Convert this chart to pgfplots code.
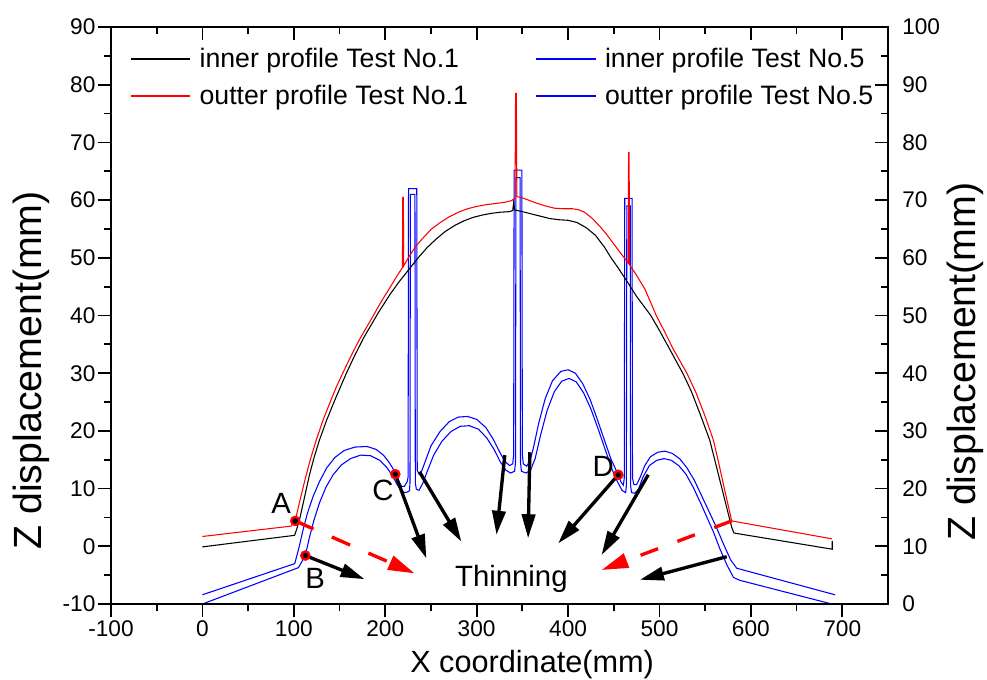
\documentclass[border=0pt]{standalone}
\usepackage{fontspec}
\setmainfont{Liberation Sans}
\usepackage{pgfplots}
\pgfplotsset{compat=1.18}
\usetikzlibrary{arrows.meta}

\newcommand\ticksize{\fontsize{17}{20}\selectfont}
\newcommand\legsize{\fontsize{20}{24}\selectfont}
\newcommand\xlabsize{\fontsize{23}{27}\selectfont}
\newcommand\zlabsize{\fontsize{29.5}{33}\selectfont}
\newcommand\notesize{\fontsize{22}{26}\selectfont}

\pgfplotsset{
  profile/.style={line width=0.8pt},
  thin arrow/.style={black, line width=2.5pt, -{Triangle[length=18pt,width=10pt]}, forget plot},
  red arrow/.style={red, line width=2.5pt, dash pattern=on 15pt off 15pt, -{Triangle[length=20pt,width=11pt]}, forget plot},
  frame/.style={
    at={(0pt,0pt)}, anchor=south west,
    scale only axis, width=582.75pt, height=432.75pt,
    xmin=-100, xmax=750,
    xtick={-100,0,100,200,300,400,500,600,700},
    minor x tick num=1, minor y tick num=1,
    major tick length=10pt, minor tick length=5.5pt,
    every tick/.append style={black, line width=1.3pt},
    axis line style={black, line width=1.5pt},
    /pgf/number format/assume math mode=true,
    tick label style={font=\ticksize},
    legend cell align=left,
    legend image code/.code={\draw[##1] (0pt,0pt) -- (44pt,0pt);
      \fill[##1] (0pt,-0.4pt) rectangle (44pt,0.4pt); \path (50pt,0pt);},
    clip=false,
  },
}

\begin{document}
\begin{tikzpicture}
\useasboundingbox (-83.25pt,-56.25pt) rectangle (657pt,453pt);

% right / top axis: Test No.5 profiles, read against the right scale
\begin{axis}[
  frame,
  ymin=0, ymax=100,
  ytick={0,10,20,30,40,50,60,70,80,90,100},
  xtick pos=top, ytick pos=right, yticklabel pos=right,
  xticklabels={},
  tick align=inside,
  yticklabel style={inner sep=0pt, xshift=10.5pt},
  ylabel={Z displacement(mm)},
  ylabel style={font=\zlabsize, at={(axis description cs:1.100,0.42)}, anchor=center},
]
% inner profile, Test No.5
\addplot[profile, blue] coordinates {
(0,0) (105,6.3) (108,7.1) (112.6,8.4) (117,11.5) (122,14.5) (128,17.5)
(135,20.2) (143,22.4) (152,24.1) (162,25.2) (173,25.8) (184,25.7) (194,24.9)
(202,23.6) (208,22.2) (213,20.7) (217,19.8) (221,19.3) (224,19.4) (226.5,19.6)
(227.1,21) (227.5,71) (232.5,71) (232.9,21) (234,19.9) (237,19.7) (241,20.9)
(246,23) (253,25.8) (262,28.2) (272,29.9) (282,30.8) (292,30.9) (302,30.3)
(311,28.8) (319,26.8) (326,24.6) (332,23.2) (337,22.7) (341.5,23) (342.5,24.5)
(343,73.9) (347.5,73.9) (348,24.5) (349,23) (354,22.7) (359,23.2) (364,25.2)
(370,29.3) (377,33.5) (385,36.8) (393,38.6) (401,39.1) (409,38.5) (417,36.6)
(425,33.8) (433,30.3) (441,26.6) (448,23.4) (454,21.2) (459,19.7) (463,19.3)
(463.8,20.5) (464.3,69) (468,69) (468.4,20.5) (469.5,19.3) (473,19.2) (477,19.9)
(482,22) (489,24) (497,24.9) (505,25.2) (513,24.9) (521,24) (529,22.5)
(537,20.2) (545,17.5) (552,15.0) (559,12.5) (566,9.6) (574,6.7) (581,4.6)
(588,4.1) (688.5,0)
};

% outer profile, Test No.5
\addplot[profile, blue] coordinates {
(0,1.6) (101,7.0) (103,8.2) (106,10) (110,12.8) (115,15.8) (121,18.6)
(128,21.2) (136,23.6) (145,25.4) (155,26.6) (167,27.2) (180,27.3) (190,26.8)
(198,25.8) (204,24.6) (208,23.6) (211,22.5) (215,21.1) (218,20.4) (221,20.4)
(224,21.2) (225,22) (225.5,72) (234.5,72) (235,23.2) (237,22.5) (240,23.1)
(244,24.8) (250,27.4) (260,29.9) (270,31.6) (280,32.4) (290,32.5) (300,32)
(310,30.6) (318,28.6) (325,26.4) (331,24.7) (336,24) (339.5,24.3) (340.5,26)
(341,75.2) (349.5,75.2) (350,26) (351,24.3) (354.5,23.9) (358,24.6) (362,27)
(368,31.4) (375,35.6) (383,38.7) (392,40.3) (400,40.6) (408,40) (416,38.2)
(424,35.5) (432,32) (440,28.3) (447,25.1) (452,23.4) (455,22.4) (458,21.1)
(460.5,20.6) (461.5,21.8) (462,70.3) (470,70.3) (470.5,21.8) (472,20.7)
(475,20.7) (479,22) (484,24) (490,25.5) (498,26.3) (506,26.5) (514,26.1)
(522,25.2) (530,23.6) (538,21.5) (546,18.8) (554,16.1) (562,13.4) (570,10.4)
(578,7.6) (584.5,6.2) (692,1.6)
};
\end{axis}

% left / bottom axis: Test No.1 profiles, annotations and the legend
\begin{axis}[
  frame,
  ymin=-10, ymax=90,
  ytick={-10,0,10,20,30,40,50,60,70,80,90},
  xtick pos=bottom, ytick pos=left,
  tick align=outside,
  xticklabel style={inner sep=2pt},
  yticklabel style={inner sep=1.5pt},
  xlabel={X coordinate(mm)},
  ylabel={Z displacement(mm)},
  xlabel style={font=\xlabsize, at={(axis description cs:0.542,-0.118)}, anchor=base},
  ylabel style={font=\zlabsize, at={(axis description cs:-0.103,0.405)}, anchor=center},
  legend columns=2, transpose legend,
  legend style={draw=none, fill=none, at={(0,1)}, anchor=north west,
    xshift=14.5pt, yshift=-15pt, inner sep=0pt, font=\legsize,
    row sep=9.5pt, nodes={inner sep=1pt},
    /tikz/every even column/.append style={column sep=50pt}},
]

% inner profile, Test No.1
\addplot[profile, black] coordinates {
(0,-0.1) (100.8,1.9) (103,2.9) (106.2,4.6) (111,8) (117,12.3) (122,15.3)
(128,18.4) (136,21.9) (145,25.4) (157.5,30) (167,33.2) (177,36.3) (192.5,40.5)
(205,43.6) (215,45.8) (225,47.8) (236,50) (246,51.8) (256,53.3) (266,54.6)
(276,55.6) (286,56.4) (296,57) (306,57.4) (316,57.7) (326,57.9) (336,58)
(339.5,58.2) (340.5,59.6) (341.5,58.3) (350,58) (360,57.6) (370,57.2)
(380,56.8) (390,56.6) (400,56.5) (410,56.1) (420,55.2) (430,53.9) (440,51.8)
(447,50) (455,48.2) (465,45.8) (475,43.3) (490.5,40) (500,37.4) (510,34.5)
(525.5,30) (535,26.8) (545,22.7) (555,18.4) (562,14) (569,9.6) (575,5.8)
(579,3.3) (581.5,2.3) (689,-0.5) (689,0.9)
};
\addlegendentry{inner profile Test No.1}

% outer profile, Test No.1
\addplot[profile, red] coordinates {
(0,1.7) (97,3.5) (101.5,4.4) (106,7.5) (112,11.4) (118,15.0) (124.5,18.4)
(132,21.9) (140,25.1) (147,27.8) (153.5,30) (162,32.8) (171,35.6) (179,37.8)
(187,40) (196,42.5) (205,44.8) (213,46.9) (218.8,48.3) (219.2,60.5)
(219.8,60.5) (220.2,48.6) (226,50.2) (233,51.9) (240,53.2) (250,54.9)
(260,56.1) (270,57.1) (280,57.9) (290,58.5) (300,58.9) (310,59.2) (320,59.4)
(330,59.6) (338,59.9) (342,60.3) (342.6,78.5) (343.4,78.5) (344,60.6)
(348,60.5) (355,60.1) (365,59.5) (375,59) (385,58.6) (395,58.5) (405,58.5)
(412,58.3) (418,57.9) (426,56.9) (434,55.6) (442,54.1) (450,52.4) (458,50.7)
(465.8,49.1) (466.2,68.2) (466.8,68.2) (467.2,48.8) (474,47.2) (484,44.6)
(496.5,40) (505,37.4) (515,34.2) (530,30) (540,26.6) (550,22.5) (559,18.4)
(565,14.3) (571,10) (576,6.5) (579,4.4) (688.5,1.3)
};
\addlegendentry{outter profile Test No.1}

% Test No.5 entries (curves are drawn against the right scale)
\addlegendimage{blue, line width=0.8pt}
\addlegendentry{inner profile Test No.5}
\addlegendimage{blue, line width=0.8pt}
\addlegendentry{outter profile Test No.5}

% thinning directions
\addplot[red arrow] coordinates {(101.5,4.4) (232.2,-4.7)};
\addplot[red arrow, dash pattern=on 14pt off 15.5pt] coordinates {(579,4.4) (436.7,-4.1)};
\addplot[thin arrow] coordinates {(112.6,-1.6) (177.4,-5.7)};
\addplot[thin arrow] coordinates {(211,12.5) (245,-2.1)};
\addplot[thin arrow] coordinates {(237.5,12.9) (283.3,0.8)};
\addplot[thin arrow] coordinates {(330.8,15.8) (321.7,2.0)};
\addplot[thin arrow] coordinates {(358.2,16.3) (356.3,1.4)};
\addplot[thin arrow] coordinates {(455,12.4) (389.2,0.5)};
\addplot[thin arrow] coordinates {(487.7,12.4) (436.7,-1.5)};
\addplot[thin arrow] coordinates {(573.6,-1.8) (478.6,-5.8)};

% measuring points A-D
\addplot[only marks, mark=*, mark size=3.75pt, mark options={draw=red, fill=red}, forget plot]
  coordinates {(101.5,4.4) (112.6,-1.6) (211,12.5) (455,12.4)};
\addplot[only marks, mark=*, mark size=1.8pt, mark options={draw=black, fill=black}, forget plot]
  coordinates {(101.5,4.4) (112.6,-1.6) (211,12.5) (455,12.4)};

\node[font=\notesize] at (axis cs:86.2,7.45) {A};
\node[font=\notesize] at (axis cs:123.4,-5.55) {B};
\node[font=\notesize] at (axis cs:197.5,9.76) {C};
\node[font=\notesize] at (axis cs:438.5,13.8) {D};
\node[font=\notesize, anchor=base] at (axis cs:338,-7.0) {Thinning};
\end{axis}
\end{tikzpicture}
\end{document}
